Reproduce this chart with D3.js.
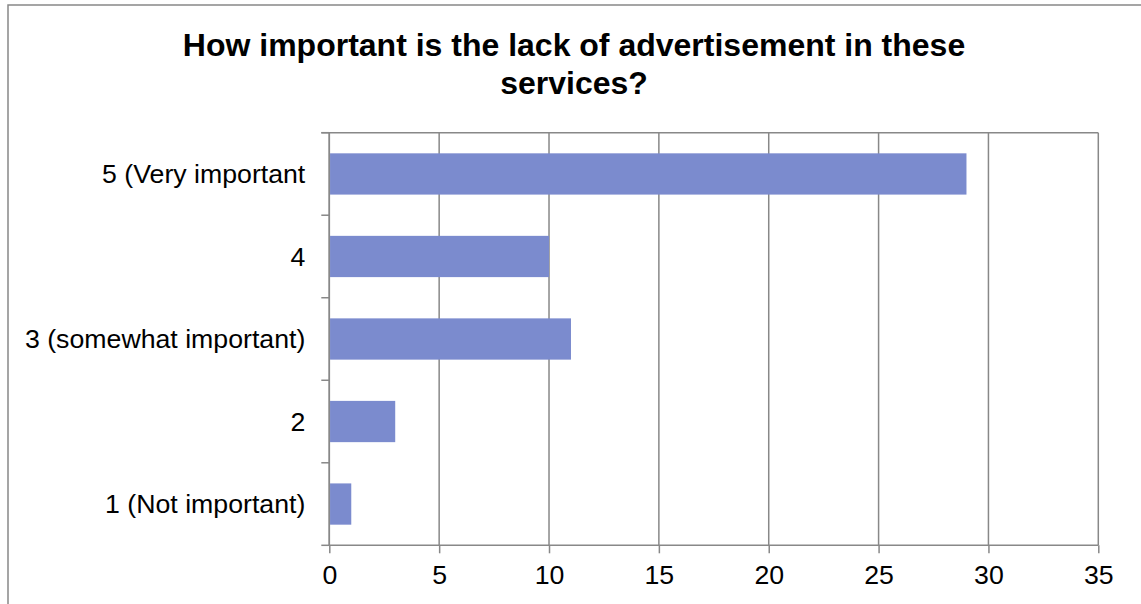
<!DOCTYPE html>
<html>
<head>
<meta charset="utf-8">
<script src="https://cdn.jsdelivr.net/npm/d3@7"></script>
<style>
  body { margin: 0; background: #fff; }
  text { font-family: "Liberation Sans", Arial, sans-serif; }
</style>
</head>
<body>
<div id="chart"></div>
<script>
// data
var categories = ["5 (Very important", "4", "3 (somewhat important)", "2", "1 (Not important)"];
var counts = [29, 10, 11, 3, 1];
var x_ticks = [0, 5, 10, 15, 20, 25, 30, 35];
var title_lines = ["How important is the lack of advertisement in these", "services?"];

var width = 1141, height = 604;
var margin = {top: 132.7, right: 42.7, bottom: 58.7, left: 329.3};
var plot_w = width - margin.left - margin.right,
    plot_h = height - margin.top - margin.bottom;

var grid_color = "#888888";
var bar_color = "#7b8bce";
var label_size = "26.7px";

var svg = d3.select("#chart").append("svg")
    .attr("width", width)
    .attr("height", height);

// outer chart border (runs off right and bottom)
svg.append("rect")
    .attr("x", 8)
    .attr("y", 5)
    .attr("width", 1160)
    .attr("height", 700)
    .attr("fill", "none")
    .attr("stroke", grid_color)
    .attr("stroke-width", 1.5);

// title
svg.append("text")
    .attr("x", 574)
    .attr("y", 55.5)
    .attr("text-anchor", "middle")
    .style("font-size", "32px")
    .style("font-weight", "bold")
    .selectAll("tspan")
    .data(title_lines)
  .enter().append("tspan")
    .attr("x", 574)
    .attr("dy", function(d, i) { return i == 0 ? 0 : 38; })
    .text(function(d) { return d; });

var g = svg.append("g")
    .attr("transform", "translate(" + margin.left + "," + margin.top + ")");

var x = d3.scaleLinear()
    .domain([0, 35])
    .range([0, plot_w]);

var y = d3.scaleBand()
    .domain(categories)
    .range([0, plot_h])
    .paddingInner(0.5)
    .paddingOuter(0.25);

// vertical gridlines
g.selectAll(".grid")
    .data(x_ticks)
  .enter().append("line")
    .attr("class", "grid")
    .attr("x1", function(d) { return x(d); })
    .attr("x2", function(d) { return x(d); })
    .attr("y1", 0)
    .attr("y2", plot_h)
    .attr("stroke", grid_color)
    .attr("stroke-width", 1.5);

// top edge of plot area
g.append("line")
    .attr("x1", -8)
    .attr("x2", plot_w)
    .attr("y1", 0)
    .attr("y2", 0)
    .attr("stroke", grid_color)
    .attr("stroke-width", 1.5);

// bars
g.selectAll(".bar")
    .data(counts)
  .enter().append("rect")
    .attr("class", "bar")
    .attr("x", x(0) + 0.75)
    .attr("y", function(d, i) { return y(categories[i]); })
    .attr("width", function(d) { return x(d) - x(0) - 0.75; })
    .attr("height", y.bandwidth())
    .attr("fill", bar_color);

// x axis
var xAxis = g.append("g")
    .attr("transform", "translate(0," + plot_h + ")")
    .call(d3.axisBottom(x).tickValues(x_ticks).tickSize(8).tickPadding(12));

// y axis, ticks on category boundaries
var yBounds = d3.range(categories.length + 1).map(function(i) { return i * plot_h / categories.length; });
var yAxis = g.append("g");
yAxis.append("line")
    .attr("x1", 0).attr("x2", 0)
    .attr("y1", 0).attr("y2", plot_h)
    .attr("stroke", grid_color)
    .attr("stroke-width", 1.5);
yAxis.selectAll(".ytick")
    .data(yBounds)
  .enter().append("line")
    .attr("x1", -8).attr("x2", 0)
    .attr("y1", function(d) { return d; })
    .attr("y2", function(d) { return d; })
    .attr("stroke", grid_color)
    .attr("stroke-width", 1.5);
yAxis.selectAll(".ylabel")
    .data(categories)
  .enter().append("text")
    .attr("x", -24)
    .attr("y", function(d) { return y(d) + y.bandwidth() / 2; })
    .attr("dy", "0.35em")
    .attr("text-anchor", "end")
    .style("font-size", label_size)
    .attr("fill", "#000")
    .text(function(d) { return d; });

xAxis.selectAll("path, line")
    .attr("stroke", grid_color)
    .attr("stroke-width", 1.5);
xAxis.select(".domain").attr("d", "M0,0H" + plot_w);
xAxis.selectAll("text")
    .style("font-size", label_size)
    .style("font-family", "'Liberation Sans', Arial, sans-serif")
    .attr("fill", "#000");
</script>
</body>
</html>
